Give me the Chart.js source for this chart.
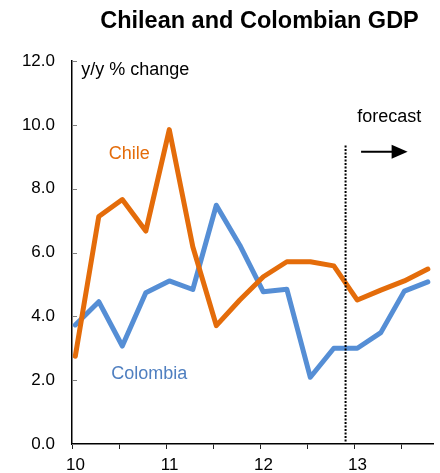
<!DOCTYPE html>
<html>
<head>
<meta charset="utf-8">
<title>Chilean and Colombian GDP</title>
<script src="https://cdn.jsdelivr.net/npm/chart.js@4.4.1/dist/chart.umd.min.js"></script>
<style>
  html, body { margin: 0; padding: 0; background: #ffffff; }
  #wrap { position: relative; width: 440px; height: 473px; }
</style>
</head>
<body>
<div id="wrap"><canvas id="gdp"></canvas></div>
<script>
// Quarterly GDP growth, y/y % change, 2010 Q1 – 2013 Q4 (2013 is forecast)
const quarters = ['10Q1','10Q2','10Q3','10Q4','11Q1','11Q2','11Q3','11Q4',
                  '12Q1','12Q2','12Q3','12Q4','13Q1','13Q2','13Q3','13Q4'];
const chile    = [2.75, 7.13, 7.66, 6.67, 9.85, 6.18, 3.71, 4.51,
                  5.24, 5.71, 5.71, 5.58, 4.51, 4.82, 5.11, 5.48];
const colombia = [3.73, 4.46, 3.07, 4.74, 5.11, 4.84, 7.48, 6.23,
                  4.77, 4.85, 2.09, 3.00, 3.00, 3.49, 4.79, 5.08];
const yearLabels = ['10', '11', '12', '13'];
const yTicks = [0, 2, 4, 6, 8, 10, 12];

const FONT = '"Liberation Sans", Arial, sans-serif';
const ORANGE = '#E46C0A';
const BLUE = '#558ED5';

// x axis runs in quarter units; each year starts a little before its Q1 point
const xStart = -0.14;
const xEnd = 15.22;
const forecastStart = 11.5;   // boundary between 2012 Q4 and 2013 Q1

const toPoints = arr => arr.map((v, i) => ({ x: i, y: v }));

// Inward tick marks on the value axis, drawn under the lines
const innerTicks = {
  id: 'innerTicks',
  beforeDatasetsDraw(chart) {
    const { ctx } = chart;
    const y = chart.scales.y;
    const x0 = chart.chartArea.left;
    ctx.save();
    ctx.strokeStyle = '#808080';
    ctx.lineWidth = 1;
    yTicks.forEach(v => {
      const py = Math.round(y.getPixelForValue(v)) + 0.5;
      ctx.beginPath();
      ctx.moveTo(x0, py);
      ctx.lineTo(x0 + 5, py);
      ctx.stroke();
    });
    ctx.restore();
  }
};

// Title, series names, unit note and the forecast marker
const annotations = {
  id: 'annotations',
  afterDatasetsDraw(chart) {
    const { ctx } = chart;
    const xs = chart.scales.x, ys = chart.scales.y;
    const px = v => xs.getPixelForValue(v);
    const py = v => ys.getPixelForValue(v);
    ctx.save();

    // forecast boundary
    ctx.strokeStyle = '#000000';
    ctx.lineWidth = 2;
    ctx.setLineDash([2, 1.5]);
    ctx.beginPath();
    ctx.moveTo(px(forecastStart), py(9.35));
    ctx.lineTo(px(forecastStart), py(0));
    ctx.stroke();
    ctx.setLineDash([]);

    // forecast arrow
    const ay = py(9.16);
    const ax0 = px(12.16), ax1 = px(14.14);
    ctx.lineWidth = 2;
    ctx.beginPath();
    ctx.moveTo(ax0, ay);
    ctx.lineTo(ax1 - 14, ay);
    ctx.stroke();
    ctx.fillStyle = '#000000';
    ctx.beginPath();
    ctx.moveTo(ax1, ay);
    ctx.lineTo(ax1 - 16, ay - 7);
    ctx.lineTo(ax1 - 16, ay + 7);
    ctx.closePath();
    ctx.fill();

    ctx.textBaseline = 'alphabetic';
    ctx.textAlign = 'left';
    ctx.font = '18px ' + FONT;
    ctx.fillStyle = '#000000';
    ctx.fillText('forecast', px(12.0), py(10.1));
    ctx.fillText('y/y % change', px(0.255), py(11.57));

    ctx.fillStyle = ORANGE;
    ctx.fillText('Chile', px(1.42), py(8.92));
    ctx.fillStyle = '#4F7FC0';
    ctx.fillText('Colombia', px(1.53), py(2.04));

    ctx.fillStyle = '#000000';
    ctx.font = 'bold 23.5px ' + FONT;
    ctx.textAlign = 'center';
    ctx.fillText('Chilean and Colombian GDP', 259.5, 28);
    ctx.restore();
  }
};

new Chart(document.getElementById('gdp'), {
  type: 'line',
  data: {
    datasets: [
      {
        label: 'Chile',
        data: toPoints(chile),
        borderColor: ORANGE,
        borderWidth: 5,
        borderJoinStyle: 'round',
        borderCapStyle: 'round',
        pointRadius: 0,
        tension: 0,
        fill: false
      },
      {
        label: 'Colombia',
        data: toPoints(colombia),
        borderColor: BLUE,
        borderWidth: 5,
        borderJoinStyle: 'round',
        borderCapStyle: 'round',
        pointRadius: 0,
        tension: 0,
        fill: false
      }
    ]
  },
  options: {
    responsive: true,
    maintainAspectRatio: false,
    animation: false,
    layout: { padding: { left: 10, top: 61, right: 7, bottom: 0 } },
    plugins: {
      legend: { display: false },
      tooltip: { enabled: false },
      title: { display: false }
    },
    scales: {
      x: {
        type: 'linear',
        min: xStart,
        max: xEnd,
        afterBuildTicks(scale) {
          const t = [];
          for (let j = 0; j < 8; j++) t.push({ value: xStart + 2 * j });
          scale.ticks = t;
        },
        afterFit(scale) { scale.height = 29; },
        grid: {
          display: true,
          drawOnChartArea: false,
          drawTicks: true,
          tickLength: 5,
          color: '#222222',
          lineWidth: 1
        },
        border: { display: true, color: '#000000', width: 1.5 },
        ticks: {
          autoSkip: false,
          maxRotation: 0,
          padding: 6,
          labelOffset: 3.5,
          color: '#000000',
          font: { family: FONT, size: 17 },
          callback: (value, index) => (index % 2 === 0 ? yearLabels[index / 2] : '')
        }
      },
      y: {
        min: 0,
        max: 12,
        afterBuildTicks(scale) { scale.ticks = yTicks.map(v => ({ value: v })); },
        afterFit(scale) { scale.width = 62; },
        grid: { display: true, drawOnChartArea: false, drawTicks: false },
        border: { display: true, color: '#000000', width: 1.5 },
        ticks: {
          padding: 17,
          color: '#000000',
          font: { family: FONT, size: 17 },
          callback: v => Number(v).toFixed(1)
        }
      }
    }
  },
  plugins: [innerTicks, annotations]
});
</script>
</body>
</html>
